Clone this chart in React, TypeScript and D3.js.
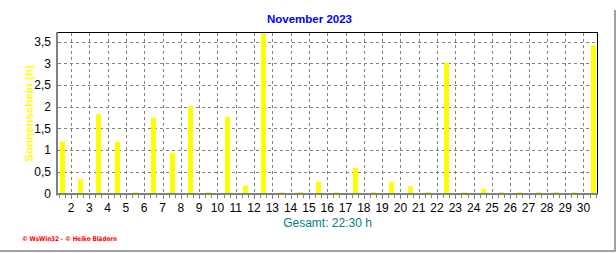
import React from "react";
import * as d3 from "d3";

const title = "November 2023";
const yTitle = "Sonnenschein (h)";
const totalLabel = "Gesamt: 22:30 h";
const footer = "\u00A9 WsWin32 - \u00A9 Heiko Blädorn";

const days = d3.range(1, 31);
const sunshine = [
  1.2, 0.33, 1.83, 1.19, 0, 1.75, 0.94, 2.02, 0, 1.77,
  0.18, 3.7, 0, 0, 0.27, 0, 0.59, 0, 0.27, 0.17,
  0, 3.02, 0, 0.11, 0, 0, 0, 0, 0, 3.42,
];
const yTicks = [0, 0.5, 1, 1.5, 2, 2.5, 3, 3.5];
const xTicks = d3.range(2, 31);

const W = 616;
const H = 253;
const L = 58;
const R = 597;
const T = 33;
const B = 193.5;

export default function App() {
  const x = d3.scaleLinear().domain([1.29, 30.74]).range([L, R]);
  const y = d3.scaleLinear().domain([0, 3.7]).range([B, T]);
  const fmt = (v: number) => String(v).replace(".", ",");
  const minorTicks = d3.range(Math.ceil(1.29 * 3), Math.floor(30.74 * 3) + 1).map((i) => i / 3);
  const font = "'Liberation Sans', Arial, sans-serif";
  return (
    <svg
      width={W}
      height={H}
      style={{ position: "fixed", left: 0, top: 0, background: "#fff" }}
      fontFamily={font}
    >
      <rect x={0} y={0} width={W} height={H} fill="#fff" />
      <rect x={614} y={10} width={2} height={242} fill="#a0a0a0" />
      <rect x={0} y={250} width={616} height={2} fill="#a0a0a0" />

      <text x={309.5} y={23} textAnchor="middle" fill="#0000ff" fontWeight="bold" fontSize={11.5}>
        {title}
      </text>

      {yTicks.filter((v) => v > 0).map((v) => (
        <line key={"hy" + v} x1={L} x2={R} y1={Math.round(y(v)) + 0.5} y2={Math.round(y(v)) + 0.5}
          stroke="#808080" strokeDasharray="3,3" />
      ))}
      {xTicks.map((k) => (
        <line key={"gx" + k} x1={Math.round(x(k)) + 0.5} x2={Math.round(x(k)) + 0.5} y1={T} y2={B}
          stroke="#808080" strokeDasharray="3,3" />
      ))}

      {days.map((d, i) => {
        const v = sunshine[i];
        const h = Math.max(B - y(v), 1.5);
        const cx = x(d + 0.5);
        return (
          <rect key={"b" + d} x={Math.round(cx - 2)} y={B - h} width={5} height={h} fill="#ffff00" />
        );
      })}

      <line x1={L} x2={R + 0.5} y1={T - 0.5} y2={T - 0.5} stroke="#000" />
      <line x1={R + 0.5} x2={R + 0.5} y1={T - 1} y2={B} stroke="#000" />
      <rect x={L - 2} y={T - 1} width={2} height={B - T + 3} fill="#808080" />
      <rect x={L - 2} y={193} width={R - L + 3} height={2} fill="#808080" />

      {minorTicks.map((t, i) => {
        const major = Math.abs(t - Math.round(t)) < 1e-6;
        return (
          <line key={"mt" + i} x1={Math.round(x(t)) + 0.5} x2={Math.round(x(t)) + 0.5} y1={195}
            y2={major ? 199 : 198} stroke="#808080" />
        );
      })}

      {yTicks.map((v) => (
        <text key={"yl" + v} x={51} y={y(v)} dy="0.36em" textAnchor="end" fontSize={12} fill="#000">
          {fmt(v)}
        </text>
      ))}
      {xTicks.map((k) => (
        <text key={"xl" + k} x={x(k)} y={207.5} dy="0.36em" textAnchor="middle" fontSize={12} fill="#000">
          {k}
        </text>
      ))}

      <text transform="translate(29,113.5) rotate(-90)" textAnchor="middle" dy="0.36em"
        fill="#ffff00" fontWeight="bold" fontSize={11.5}>
        {yTitle}
      </text>

      <text x={(L + R) / 2} y={222.7} dy="0.36em" textAnchor="middle" fill="#008080" fontSize={12}>
        {totalLabel}
      </text>

      <text x={22} y={238.3} dy="0.36em" fill="#ff0000" fontSize={6.5} fontWeight="bold"
        fontFamily="'DejaVu Sans', sans-serif" textLength={95} lengthAdjust="spacingAndGlyphs">
        {footer}
      </text>
    </svg>
  );
}
